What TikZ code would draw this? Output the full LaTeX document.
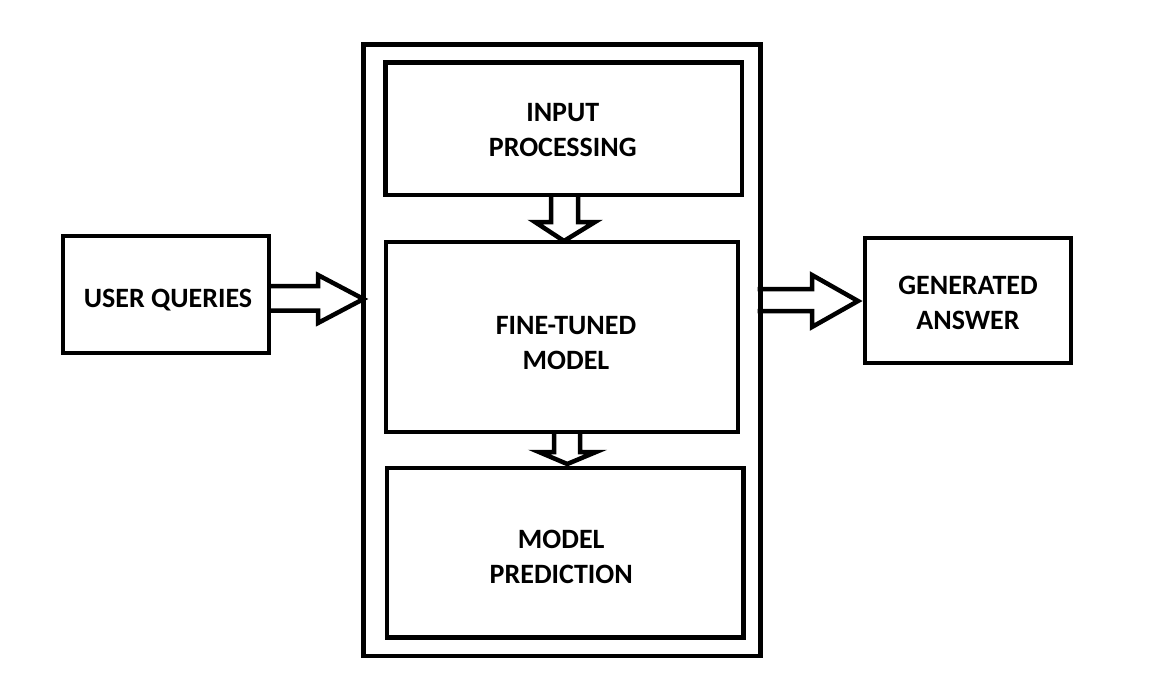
\documentclass[tikz,border=0pt]{standalone}
\usepackage{fontspec}
\setmainfont{Carlito}
\usetikzlibrary{calc,backgrounds}
\begin{document}
\begin{tikzpicture}[x=1pt,y=-1pt,
  box/.style={draw=black,line width=4.5pt,fill=white,inner sep=0pt,outer sep=0pt},
  txt/.style={inner sep=0pt,align=center,font=\fontsize{28}{35}\selectfont\bfseries},
  barrow/.style={draw=black,line width=4.5pt,fill=white,line join=miter}]
\useasboundingbox (0,0) rectangle (1152,686);
\node[draw=black,line width=4.5pt,inner sep=0pt,outer sep=0pt,minimum width=397pt,minimum height=611.5pt] (outer) at (562,350.25) {};
\node[box,minimum width=356.5pt,minimum height=132.5pt] (inp) at (563.75,128.75) {};
\node[box,minimum width=352pt,minimum height=190pt] (ftm) at (562,337) {};
\node[box,minimum width=356.5pt,minimum height=169.5pt] (pred) at (565.25,552.75) {};
\node[box,minimum width=206pt,minimum height=117pt] (uq) at (166,294.5) {};
\node[box,minimum width=206pt,minimum height=125pt] (gen) at (968,300.5) {};
\node[txt] (inpt) at ($(inp.center)+(-1,1)$) {INPUT\\PROCESSING};
\node[txt] (ftmt) at ($(ftm.center)+(4,6)$) {FINE-TUNED\\MODEL};
\node[txt] (predt) at ($(pred.center)+(-4,4)$) {MODEL\\PREDICTION};
\node[txt] (uqt) at ($(uq.center)+(2,6)$) {USER QUERIES};
\node[txt] (gent) at ($(gen.center)+(0,2)$) {GENERATED\\ANSWER};
\begin{pgfonlayer}{background}
% left arrow
\draw[barrow] ($(uq.east)+(-3,-8.5)$) -- (318,286) -- (318,275) -- ($(outer.west)+(0,-51.25)$)
  -- (318,323) -- (318,310.5) -- ($(uq.east)+(-3,16)$);
% right arrow
\draw[barrow] ($(outer.east)+(-3,-61.25)$) -- (812,289) -- (812,275) -- ($(gen.west)+(-7,0.5)$)
  -- (812,327) -- (812,311) -- ($(outer.east)+(-3,-39.25)$);
% down arrow 1
\draw[barrow] ($(inp.south)+(-12.75,-3)$) -- (551,222) -- (535,222) -- ($(ftm.north)+(2,-1)$)
  -- (595,222) -- (578,222) -- ($(inp.south)+(14.25,-3)$);
% down arrow 2
\draw[barrow] ($(ftm.south)+(-8,-3)$) -- (554,452) -- (539,452) -- ($(pred.north)+(2,-4)$)
  -- (596,452) -- (580,452) -- ($(ftm.south)+(18,-3)$);
\end{pgfonlayer}
\end{tikzpicture}
\end{document}
